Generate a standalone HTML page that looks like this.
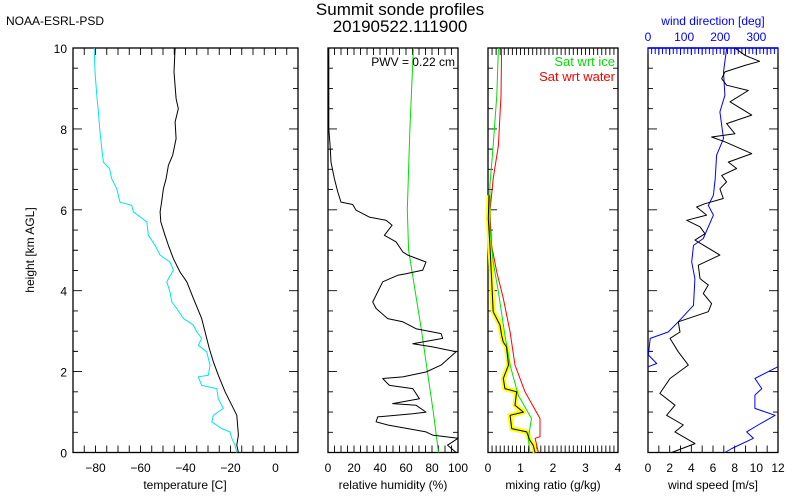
<!DOCTYPE html>
<html><head><meta charset="utf-8"><style>
body{margin:0;background:#fff;width:800px;height:500px;overflow:hidden}
svg{display:block;font-family:"Liberation Sans",sans-serif}
</style></head><body>
<svg id="c" width="800" height="500">
<text x="400" y="15" text-anchor="middle" font-size="17">Summit sonde profiles</text>
<text x="400" y="32" text-anchor="middle" font-size="17">20190522.111900</text>
<text x="6" y="25" font-size="12">NOAA-ESRL-PSD</text>
<text x="34" y="250" font-size="12" text-anchor="middle" transform="rotate(-90 34 250)">height [km AGL]</text>
</svg>
<script>
const hT=[10,9.41,8.75,8.5,8.17,7.76,7.35,7.1,6.77,6.52,6.19,5.95,5.7,5.37,5.12,4.79,4.46,4.22,3.81,3.31,2.98,2.57,2.24,1.91,1.5,1.17,0.92,0.43,0.18,0];
const temp=[-44.6,-45.1,-44.2,-43.2,-44.6,-44.2,-45.7,-47.6,-48.6,-49.8,-50.6,-51.3,-51,-49.1,-47.6,-45.4,-42.4,-39.4,-36.5,-32.8,-31.3,-29.4,-27.6,-25.4,-22.4,-19.4,-17.2,-16.5,-17.2,-16.5];
const hD=[10,9.41,8.83,8.42,7.92,7.51,7.18,7.02,6.77,6.52,6.19,6.11,5.95,5.7,5.37,5.12,4.88,4.71,4.51,4.22,3.97,3.72,3.56,3.31,3.15,2.98,2.82,2.65,2.49,2.16,1.91,1.87,1.66,1.58,1.33,1.09,0.92,0.76,0.59,0.51,0.35,0.18,0];
const dewp=[-80.6,-80.2,-79.4,-78.7,-78,-77.2,-76.5,-73.8,-72.8,-70.6,-69.1,-63.9,-63.2,-57.2,-56.5,-53.5,-51.3,-46.9,-45.4,-48.3,-46.9,-46.1,-43.9,-40.9,-36.5,-35,-32.8,-34.3,-30.6,-29.1,-29.8,-34.3,-32.8,-26.1,-25.4,-23.2,-27.6,-28.3,-23.9,-20.2,-19.4,-18,-17.2];
const hRH=[10,8,7.59,7.18,6.77,6.44,6.19,6.13,5.99,5.82,5.74,5.62,5.37,5.21,4.96,4.88,4.71,4.51,4.42,4.38,4.22,3.97,3.72,3.56,3.31,3.23,3.06,2.94,2.82,2.69,2.61,2.49,2.16,1.99,1.87,1.83,1.66,1.58,1.33,1.21,1.17,1,0.96,0.88,0.76,0.68,0.51,0.43,0.35,0.18,0];
const rh=[0.6,0.6,1.6,2.3,4.9,7.5,10,19,21.6,31.8,44.7,49.3,43.4,52.3,57.5,61.3,75.4,72.9,60,53.6,42.1,38.2,34.4,37,45.9,57.5,67.7,87,88.2,65.2,80.5,98.5,87,75.4,57.5,42.1,47.2,65.2,70.3,49.8,67.7,75.4,65.2,38.2,37,45.9,75.4,80.5,100,92,98.5];
const hRHi=[10,8,6,5,4,3,2,1,0];
const rhIce=[65.7,63,61,62,67,72,76.5,81,85];
const hW=[10,8.83,7.59,6.77,5.95,5.12,4.46,3.81,2.98,2.16,1.5,0.84,0.39,0.35,0];
const satWater=[0.42,0.4,0.32,0.16,0.06,0.11,0.27,0.47,0.68,0.83,1.14,1.6,1.6,1.45,1.55];
const hI=[10,8.83,7.59,6.61,5.54,4.71,3.97,2.9,2.16,1.42,0.84,0.35,0];
const satIce=[0.32,0.27,0.16,0.06,0.06,0.16,0.32,0.52,0.68,0.93,1.34,1.24,1.29];
const hM=[6.36,5.78,5.12,4.3,3.48,3.15,2.9,2.73,2.61,2.16,1.83,1.58,1.5,1.17,1,0.92,0.59,0.51,0.3,0.18,0];
const mixr=[0.03,0.01,0.06,0.11,0.16,0.37,0.42,0.47,0.57,0.63,0.47,0.52,0.88,0.83,1.09,0.68,0.73,1.19,1.29,1.39,1.45];
const hS=[10,9.82,9.67,9.57,9.41,9.24,9.08,8.95,8.67,8.34,8.13,7.88,7.8,7.68,7.39,7.18,7.02,6.85,6.69,6.52,6.28,6.15,6.07,5.87,5.74,5.58,5.41,5.25,4.88,4.63,4.3,4.14,3.93,3.68,3.48,3.23,2.98,2.82,2.49,2.16,1.83,1.46,1.17,0.92,0.68,0.51,0.22,0];
const wspd=[8.03,8.95,10.3,8.95,7.1,6.8,7.26,9.26,7.57,9.57,7.26,8.03,5.87,7.1,9.57,7.41,8.18,6.8,7.26,6.64,6.95,5.26,4.49,5.41,3.57,4.8,5.26,4.34,6.64,4.64,4.8,5.57,5.1,5.87,5.57,2.8,2.95,2.03,2.8,3.72,2.03,1.1,2.49,1.72,3.26,2.49,4.34,2.18];
const hDir=[10,9.41,8.83,8.42,7.76,7.35,6.77,6.36,6.11,5.87,5.29,5.12,4.71,4.3,3.64,3.23,2.98,2.82,2.41,2.2,2.12,2.12,1.83,1.58,1.42,1.09,0.92,0.68,0.51,0.35,0.1,0];
const wdir=[218,209,213,199,209,190,186,181,167,181,153,126,121,130,126,84,56,6,1,24,1,360,296,315,296,296,352,305,273,292,232,213];
const tLabels=[-80,-60,-40,-20,0];
const rhLabels=[0,20,40,60,80,100];
const mrLabels=[0,1,2,3,4];
const wsLabels=[0,2,4,6,8,10,12];
const wdLabels=[0,100,200,300];
const hLabels=[0,2,4,6,8,10];

const svg=document.getElementById('c');
const NS='http://www.w3.org/2000/svg';
const Y0=452.5,Y1=48;
const yS=h=>Y0-(h/10)*(Y0-Y1);
function mk(tag,at,name){const e=document.createElementNS(NS,tag);for(const k in at)e.setAttribute(k,at[k]);


svg.appendChild(e);return e;}
function txt(x,y,s,name,anchor,col,size){const e=mk('text',{x:x,y:y,'font-size':size||12,'text-anchor':anchor||'middle',fill:col||'#000'},name);e.textContent=s;return e;}
function panel(x0,x1,min,max,minorStep,name){
  const xs=v=>x0+(v-min)/(max-min)*(x1-x0);
  mk('rect',{x:x0,y:Y1,width:x1-x0,height:Y0-Y1,fill:'none',stroke:'#000','stroke-width':1.3},name+'-frame');
  let d='';
  for(let v=min;v<=max+1e-9;v+=minorStep){const x=xs(v);d+=`M${x} ${Y0}v-7M${x} ${Y1}v7`;}
  for(let h=0;h<=10.001;h+=0.5){const y=yS(h);const L=(Math.abs(h%2)<1e-6)?9:5;d+=`M${x0} ${y}h${L}M${x1} ${y}h${-L}`;}
  mk('path',{d:d,stroke:'#000','stroke-width':0.9,fill:'none'},name+'-ticks');
  return xs;
}
function line(xs,hs,vs,col,w,name,breakJump){
  let d='';for(let i=0;i<vs.length;i++){const cmd=(i==0||(breakJump&&Math.abs(vs[i]-vs[i-1])>breakJump))?'M':'L';d+=cmd+xs(vs[i]).toFixed(1)+' '+yS(hs[i]).toFixed(1);}
  return mk('path',{d:d,stroke:col,'stroke-width':w,fill:'none','stroke-linejoin':'round'},name);
}
const xT=panel(73,298,-90,10,5,'temperature-panel');
line(xT,hD,dewp,'#00e5ee',1,'dewpoint-line');
line(xT,hT,temp,'#000',1,'temperature-line');
tLabels.forEach(v=>txt(xT(v),472,(v<0?'\u2212':'')+Math.abs(v),'temperature-tick-label'));
txt(185,489,'temperature [C]','temperature-axis-title');
hLabels.forEach(h=>txt(67,yS(h)+5,String(h),'height-tick-label','end'));
const xR=panel(328,458,0,100,5,'humidity-panel');
line(xR,hRHi,rhIce,'#00e000',1,'rh-ice-line');
line(xR,hRH,rh,'#000',1,'rh-line');
rhLabels.forEach(v=>txt(xR(v),472,String(v),'rh-tick-label'));
txt(393,489,'relative humidity (%)','rh-axis-title');
txt(455,66,'PWV = 0.22 cm','pwv-label','end');
const xM=panel(488,618,0,4,0.125,'mixing-panel');
line(xM,hM,mixr,'#ffff00',5,'mixing-uncertainty-band');
line(xM,hW,satWater,'#ff0000',1,'sat-water-line');
line(xM,hI,satIce,'#00e000',1,'sat-ice-line');
line(xM,hM,mixr,'#000',1,'mixing-ratio-line');
mrLabels.forEach(v=>txt(xM(v),472,String(v),'mixing-tick-label'));
txt(553,489,'mixing ratio (g/kg)','mixing-axis-title');
txt(615,66,'Sat wrt ice','legend-sat-ice','end','#00e000',13);
txt(615,81,'Sat wrt water','legend-sat-water','end','#ff0000',13);
const xS=panel(648,778,0,12,1,'wind-panel');
const xDir=v=>648+v/360*130;
let dt='';for(let v=0;v<=360;v+=10){dt+=`M${xDir(v)} ${Y1}v6`;}
mk('path',{d:dt,stroke:'#0000ff','stroke-width':1},'wind-direction-ticks');
mk('line',{x1:648,y1:Y1,x2:778,y2:Y1,stroke:'#0000ff','stroke-width':1.5},'wind-direction-axis');
line(xDir,hDir,wdir,'#0000ff',1,'wind-direction-line',180);
line(xS,hS,wspd,'#000',1,'wind-speed-line');
wsLabels.forEach(v=>txt(xS(v),472,String(v),'wind-speed-tick-label'));
txt(713,489,'wind speed [m/s]','wind-speed-axis-title');
wdLabels.forEach(v=>txt(xDir(v),41,String(v),'wind-direction-tick-label','middle','#0000ff'));
txt(713,25,'wind direction [deg]','wind-direction-axis-title','middle','#0000ff');
</script>
</body></html>
